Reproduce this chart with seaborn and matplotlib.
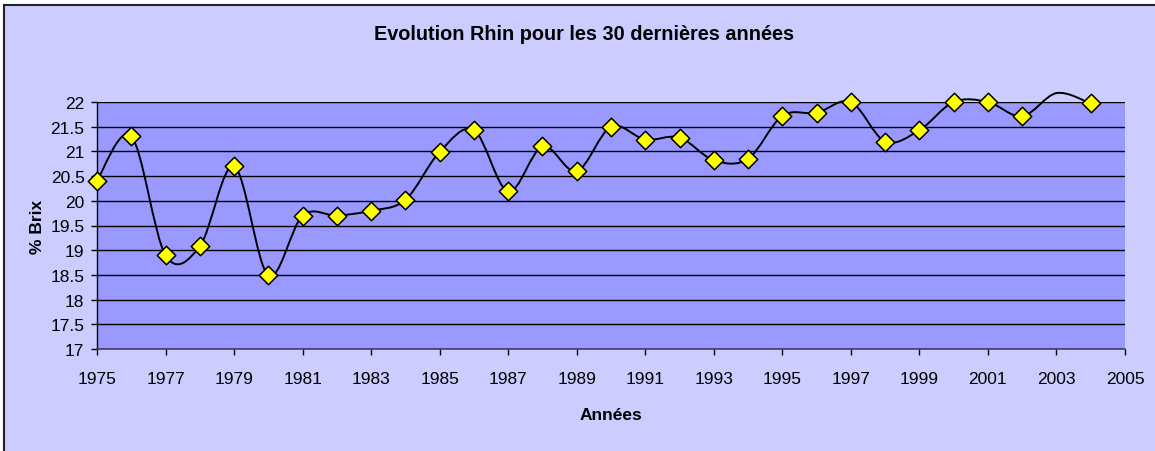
"""
Evolution Rhin - %Brix over the last 30 years (Excel-style smoothed line).
"""

import numpy as np
import pandas as pd
import matplotlib
matplotlib.use("Agg")
import matplotlib.pyplot as plt
from matplotlib.path import Path
from matplotlib.patches import PathPatch, Rectangle
import seaborn as sns

# data
years = list(range(1975, 2005))
brix = [20.41, 21.31, 18.90, 19.08, 20.70, 18.49, 19.70, 19.70, 19.80, 20.02,
        20.99, 21.43, 20.19, 21.10, 20.60, 21.50, 21.24, 21.28, 20.82, 20.85,
        21.72, 21.78, 22.00, 21.20, 21.43, 22.00, 22.00, 21.71, 22.18, 21.97]

x_ticks = list(range(1975, 2006, 2))
y_ticks = [17, 17.5, 18, 18.5, 19, 19.5, 20, 20.5, 21, 21.5, 22]

title = "Evolution Rhin pour les 30 dernières années"
x_label = "Années"
y_label = "% Brix"

OUTER = "#CCCCFF"
PLOT_BG = "#9999FF"


def smooth_path(x, y):
    """Bezier path through the points, like Excel's 'smoothed line'."""
    x = np.asarray(x, float)
    y = np.asarray(y, float)
    n = len(x)
    verts = [(x[0], y[0])]
    codes = [Path.MOVETO]
    for i in range(n - 1):
        xp, yp = (x[i - 1], y[i - 1]) if i > 0 else (x[i], y[i])
        xn, yn = (x[i + 2], y[i + 2]) if i + 2 < n else (x[i + 1], y[i + 1])
        c1 = (x[i] + (x[i + 1] - xp) / 6, y[i] + (y[i + 1] - yp) / 6)
        c2 = (x[i + 1] - (xn - x[i]) / 6, y[i + 1] - (yn - y[i]) / 6)
        verts += [c1, c2, (x[i + 1], y[i + 1])]
        codes += [Path.CURVE4] * 3
    return Path(verts, codes)


sns.set_theme(style="white")
plt.rcParams["font.family"] = ["Liberation Sans", "DejaVu Sans"]
plt.rcParams["text.color"] = "black"
plt.rcParams["axes.labelcolor"] = "black"

W, H = 1155, 452
fig = plt.figure(figsize=(W / 100, H / 100), dpi=100)
fig.patch.set_facecolor("white")

# chart area with its border (cropped on right / bottom)
fig.patches.append(Rectangle((4 / W, -0.1), 1.2, 1.1 - 6 / H,
                             transform=fig.transFigure, facecolor=OUTER,
                             edgecolor="#222222", linewidth=1.5, zorder=-5))

ax = fig.add_axes([97 / W, 1 - 350 / H, 1028 / W, 247 / H])
ax.set_facecolor(PLOT_BG)

df = pd.DataFrame({"year": years, "brix": brix})

ax.add_patch(PathPatch(smooth_path(df["year"], df["brix"]), facecolor="none",
                       edgecolor="black", linewidth=1.4, clip_on=False, zorder=2))

# Excel hides markers that fall above the axis maximum
shown = df[df["brix"] <= max(y_ticks)]
sns.scatterplot(data=shown, x="year", y="brix", marker="D", s=88,
                color="#FFFF00", edgecolor="black", linewidth=1.1,
                clip_on=False, zorder=3, ax=ax, legend=False)

ax.set_xlim(1975, 2005)
ax.set_ylim(17, 22)
ax.set_xticks(x_ticks)
ax.set_xticklabels([str(t) for t in x_ticks])
ax.set_yticks(y_ticks)
ax.set_yticklabels([f"{t:g}" for t in y_ticks])
ax.grid(axis="y", color="black", linewidth=1.0)
ax.grid(axis="x", visible=False)
ax.set_axisbelow(True)

for side in ["top", "right"]:
    ax.spines[side].set_visible(False)
ax.spines["left"].set_color("black")
ax.spines["bottom"].set_color("#404060")
ax.spines["left"].set_linewidth(1.0)
ax.spines["bottom"].set_linewidth(1.2)

ax.tick_params(axis="both", direction="out", length=4, width=1, color="black",
               labelsize=12.5, labelcolor="black")
ax.tick_params(axis="x", pad=12, bottom=True)
ax.tick_params(axis="y", pad=5, left=True)

ax.set_xlabel(x_label, fontsize=12.5, fontweight="bold")
ax.set_ylabel(y_label, fontsize=12.5, fontweight="bold")
ax.yaxis.set_label_coords(-60 / 1028, 0.5)
ax.xaxis.set_label_coords(0.5, -(416 - 350) / 247)
ax.xaxis.label.set_va("center")
ax.yaxis.label.set_va("center")

fig.text(584 / W, 1 - 35 / H, title, ha="center", va="center",
         fontsize=14.3, fontweight="bold")

fig.savefig("out.png", dpi=100, facecolor=fig.get_facecolor())
